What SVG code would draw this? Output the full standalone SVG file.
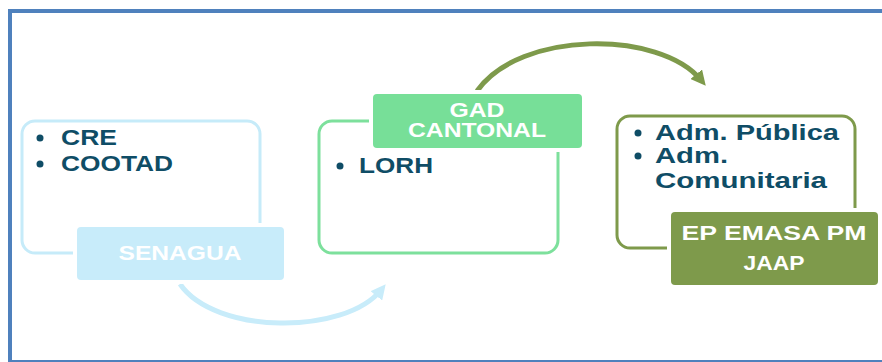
<svg xmlns="http://www.w3.org/2000/svg" width="882" height="362" viewBox="0 0 882 362">
<style>
.frame{fill:none;stroke:#4F81BD;stroke-width:4}
.outline{fill:none;stroke-width:3}
.label{stroke:#FFFFFF;stroke-width:8;paint-order:stroke}
.item{font-family:"Liberation Sans",Arial,sans-serif;font-weight:bold;font-size:22px;fill:#0F4D66}
.ltxt{font-family:"Liberation Sans",Arial,sans-serif;font-weight:bold;font-size:20px;fill:#FFFFFF;text-anchor:middle}
.bullet{fill:#0F4D66}
.conn{fill:none;stroke-width:5}
</style>
<defs>
<marker id="ahBlue" viewBox="0 0 10 10" refX="5" refY="5" markerWidth="3" markerHeight="3" orient="auto" markerUnits="strokeWidth">
<path d="M0,0 L10,5 L0,10 z" fill="#C8ECFA"/>
</marker>
<marker id="ahGreen" viewBox="0 0 10 10" refX="5" refY="5" markerWidth="3" markerHeight="3" orient="auto" markerUnits="strokeWidth">
<path d="M0,0 L10,5 L0,10 z" fill="#7E9A4B"/>
</marker>
</defs>
<rect x="0" y="0" width="882" height="362" fill="#FFFFFF"/>
<rect class="frame" x="10" y="11" width="900" height="351"/>

<g id="connectors">
<path class="conn" d="M180,284 C215,335 345,335 381,290" stroke="#C8ECFA" marker-end="url(#ahBlue)"/>
<path class="conn" d="M477,91 C520,30 660,30 701,80" stroke="#7E9A4B" marker-end="url(#ahGreen)"/>
</g>

<g id="node-senagua">
<rect class="outline" x="22" y="121" width="238" height="132" rx="13" stroke="#C6EBF9"/>
<circle class="bullet" cx="40" cy="138" r="3.5"/>
<text class="item" x="61" y="145" textLength="56" lengthAdjust="spacingAndGlyphs">CRE</text>
<circle class="bullet" cx="40" cy="164" r="3.5"/>
<text class="item" x="61" y="171" textLength="112" lengthAdjust="spacingAndGlyphs">COOTAD</text>
<rect class="label" x="77" y="227" width="207" height="53" rx="4" fill="#C8ECFA"/>
<text class="ltxt" x="180" y="260" textLength="123" lengthAdjust="spacingAndGlyphs">SENAGUA</text>
</g>

<g id="node-gad">
<rect class="outline" x="319" y="121" width="239" height="132" rx="13" stroke="#7DE09C"/>
<circle class="bullet" cx="340" cy="166" r="3.5"/>
<text class="item" x="359" y="173" textLength="74" lengthAdjust="spacingAndGlyphs">LORH</text>
<rect class="label" x="373" y="94" width="209" height="54" rx="4" fill="#77DF98"/>
<text class="ltxt" x="477" y="117" textLength="55" lengthAdjust="spacingAndGlyphs">GAD</text>
<text class="ltxt" x="477" y="137" textLength="138" lengthAdjust="spacingAndGlyphs">CANTONAL</text>
</g>

<g id="node-ep">
<rect class="outline" x="617" y="116" width="238" height="132" rx="13" stroke="#7E9A4B"/>
<circle class="bullet" cx="638" cy="133" r="3.5"/>
<text class="item" x="655" y="140" textLength="184" lengthAdjust="spacingAndGlyphs">Adm. Pública</text>
<circle class="bullet" cx="638" cy="156" r="3.5"/>
<text class="item" x="655" y="163" textLength="73" lengthAdjust="spacingAndGlyphs">Adm.</text>
<text class="item" x="655" y="188" textLength="172" lengthAdjust="spacingAndGlyphs">Comunitaria</text>
<rect class="label" x="671" y="212" width="207" height="73" rx="4" fill="#7E9A4B"/>
<text class="ltxt" x="774" y="240" textLength="185" lengthAdjust="spacingAndGlyphs">EP EMASA PM</text>
<text class="ltxt" x="774" y="270" textLength="61" lengthAdjust="spacingAndGlyphs">JAAP</text>
</g>
</svg>
